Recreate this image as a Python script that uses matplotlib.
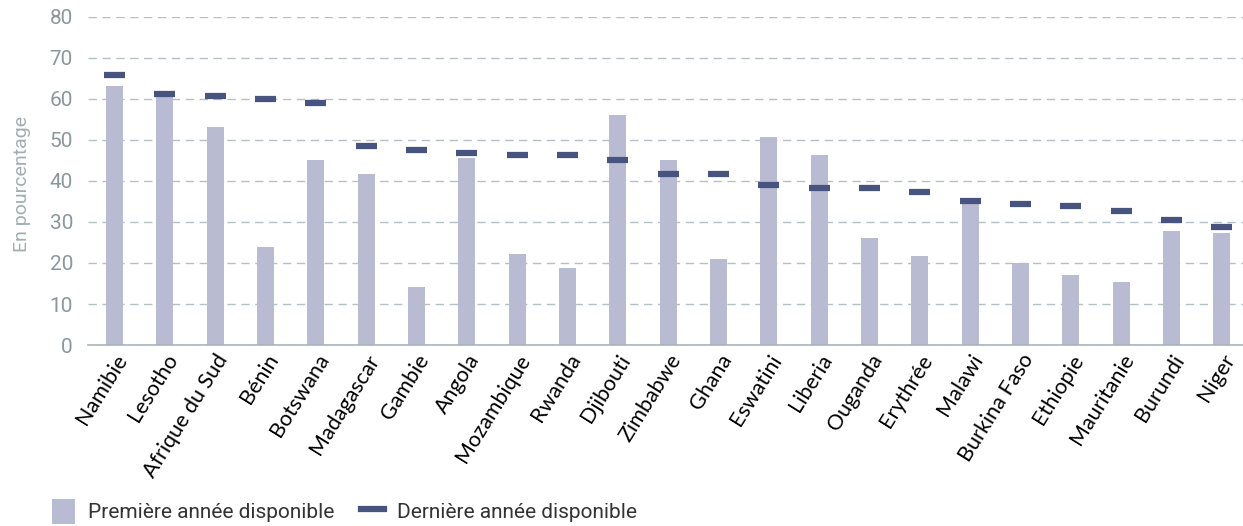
import numpy as np
import matplotlib.pyplot as plt
from matplotlib.patches import Patch
from matplotlib.lines import Line2D

# ------------------------------------------------------------
# Data
# ------------------------------------------------------------
countries = ["Namibie", "Lesotho", "Afrique du Sud", "Bénin", "Botswana",
             "Madagascar", "Gambie", "Angola", "Mozambique", "Rwanda",
             "Djibouti", "Zimbabwe", "Ghana", "Eswatini", "Liberia",
             "Ouganda", "Erythrée", "Malawi", "Burkina Faso", "Ethiopie",
             "Mauritanie", "Burundi", "Niger"]

first_year = [63.1, 60.8, 53.2, 23.9, 45.2, 41.8, 14.1, 45.7, 22.2, 18.8,
              56.0, 45.2, 21.0, 50.8, 46.4, 26.1, 21.7, 34.5, 20.0, 17.1,
              15.4, 27.8, 27.3]

last_year = [65.8, 61.2, 60.6, 60.0, 59.0, 48.6, 47.5, 46.9, 46.3, 46.3,
             45.2, 41.8, 41.8, 39.0, 38.4, 38.4, 37.2, 35.0, 34.4, 33.8,
             32.7, 30.4, 28.8]

yticks = [0, 10, 20, 30, 40, 50, 60, 70, 80]

BAR_COLOR = "#b9bbd3"
MARK_COLOR = "#47547f"
GRID_COLOR = "#b3c0c4"
TICK_GRAY = "#8c979b"

# ------------------------------------------------------------
# Plot
# ------------------------------------------------------------
fig = plt.figure(figsize=(12.43, 5.26), dpi=100)
ax = fig.add_axes([0.071, 0.344, 0.929, 0.624])

x = np.arange(len(countries))
ax.bar(x, first_year, width=0.34, color=BAR_COLOR, zorder=2)
# "latest year" shown as short horizontal dashes
ax.errorbar(x, last_year, xerr=0.21, fmt="none", ecolor=MARK_COLOR,
            elinewidth=4.5, capsize=0, zorder=3)

ax.set_xlim(-0.52, len(countries) - 1 + 0.42)
ax.set_ylim(0, 80)
ax.set_yticks(yticks)
ax.yaxis.grid(True, linestyle=(0, (6, 4)), color=GRID_COLOR, linewidth=1.0, zorder=0)
ax.set_axisbelow(True)

for side in ["top", "right", "left"]:
    ax.spines[side].set_visible(False)
ax.spines["bottom"].set_color("#aab4b8")
ax.spines["bottom"].set_linewidth(1.2)

ax.tick_params(axis="y", length=0, pad=11, labelsize=15, labelcolor=TICK_GRAY)
ax.tick_params(axis="x", length=0, pad=4)
for lbl in ax.get_yticklabels():
    lbl.set_fontfamily("Roboto")

ax.set_xticks(x)
ax.set_xticklabels(countries, rotation=58, ha="right", va="top",
                   rotation_mode="anchor", fontsize=15.5, family="Lato")

ax.set_ylabel("En pourcentage", fontsize=14, color="#a3adb1", family="Roboto")
ax.yaxis.set_label_coords(-0.05, 0.49)

handles = [Patch(facecolor=BAR_COLOR, edgecolor="none"),
           Line2D([0], [0], color=MARK_COLOR, linewidth=4.5)]
fig.legend(handles, ["Première année disponible", "Dernière année disponible"],
           loc="lower left", bbox_to_anchor=(0.027, -0.031), ncol=2, frameon=False,
           prop={"family": "Roboto", "size": 15}, handlelength=1.1,
           handleheight=1.4, columnspacing=1.3, handletextpad=0.6,
           labelcolor="#333333")

fig.savefig("out.png", dpi=100)
